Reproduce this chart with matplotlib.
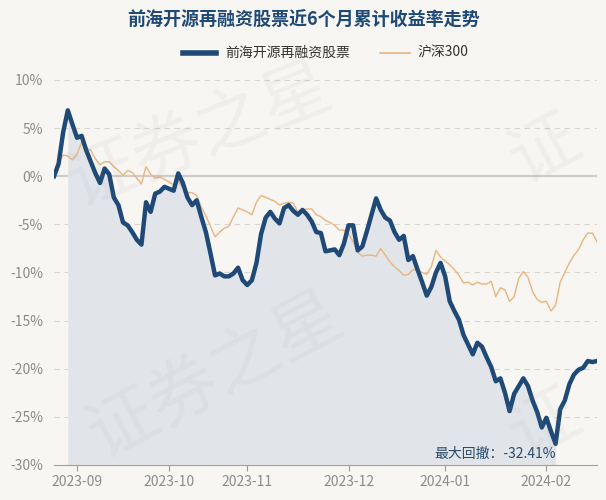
import numpy as np
import matplotlib
matplotlib.use("Agg")
import matplotlib.pyplot as plt
from matplotlib.lines import Line2D

plt.rcParams['font.family'] = ['Noto Sans CJK SC', 'DejaVu Sans']

title = "前海开源再融资股票近6个月累计收益率走势"
fund_name = "前海开源再融资股票"
index_name = "沪深300"

# cumulative returns (%) per trading day, 2023-08-25 .. 2024-02-26
fund = [0.0, 1.3, 4.6, 6.85, 5.4, 4.0, 4.2, 2.7, 1.5, 0.3,
        -0.7, 0.8, 0.2, -2.2, -3.0, -4.8, -5.1, -5.8, -6.6, -7.1,
        -2.7, -3.7, -1.8, -1.6, -1.1, -1.3, -1.5, 0.3, -0.7, -2.2,
        -3.0, -2.5, -4.2, -5.8, -8.0, -10.3, -10.1, -10.4, -10.4, -10.1,
        -9.5, -10.8, -11.3, -10.8, -9.0, -6.0, -4.3, -3.7, -4.4, -4.9,
        -3.3, -3.0, -3.6, -4.0, -3.5, -4.0, -4.7, -5.8, -5.9, -7.8,
        -7.7, -7.6, -8.2, -7.0, -5.1, -5.1, -7.7, -7.3, -5.7, -4.0,
        -2.3, -3.5, -4.3, -4.6, -5.8, -6.6, -6.2, -8.7, -8.3, -9.7,
        -11.0, -12.4, -11.5, -10.0, -9.0, -10.4, -13.0, -14.0, -14.9, -16.5,
        -17.5, -18.5, -17.3, -17.7, -18.8, -19.8, -21.3, -21.0, -22.5, -24.4,
        -22.6, -21.8, -21.0, -21.8, -23.3, -24.5, -26.1, -25.1, -26.5, -27.8,
        -24.2, -23.3, -21.6, -20.6, -20.1, -19.9, -19.2, -19.3, -19.2]

hs300 = [0.0, 1.5, 2.2, 2.1, 1.7, 2.3, 3.5, 2.9, 2.7, 1.8,
         1.2, 1.5, 1.5, 1.0, 0.6, 0.1, 0.6, 0.4, -0.2, -0.8,
         1.0, 0.2, -0.2, -0.1, -0.3, -0.6, -0.9, -0.5, -1.2, -1.7,
         -1.7, -2.0, -3.2, -4.1, -5.2, -6.3, -5.8, -5.4, -5.2, -4.2,
         -3.3, -3.5, -3.7, -4.0, -2.7, -2.0, -2.2, -2.4, -2.6, -3.0,
         -2.8, -2.7, -2.8, -3.7, -3.5, -3.4, -3.4, -4.0, -4.2, -4.6,
         -4.8, -5.1, -5.6, -5.6, -6.0, -6.8, -7.9, -8.3, -8.2, -8.2,
         -8.3, -7.5, -8.2, -8.9, -9.4, -9.8, -10.3, -10.2, -9.7, -9.8,
         -10.0, -10.2, -9.4, -7.7, -8.4, -8.8, -9.2, -9.7, -10.3, -11.1,
         -11.0, -11.3, -11.0, -11.2, -11.2, -10.9, -12.5, -11.6, -11.8, -13.0,
         -12.5, -10.6, -9.9, -10.5, -12.0, -12.8, -13.1, -13.0, -14.0, -13.4,
         -11.0, -10.0, -9.0, -8.2, -7.6, -6.6, -5.9, -5.9, -6.8]

month_labels = ["2023-09", "2023-10", "2023-11", "2023-12", "2024-01", "2024-02"]
month_start_idx = [5, 25, 42, 64, 85, 107]
y_ticks = [10, 5, 0, -5, -10, -15, -20, -25, -30]
max_dd_text = "最大回撤：-32.41%"

bg = '#f8f6f2'
navy = '#1f4a78'
orange = '#eab47e'

fig = plt.figure(figsize=(6.06, 5.0), dpi=100, facecolor=bg)
ax = fig.add_axes([54/606, 35/500, 543/606, 385/500])
ax.set_facecolor(bg)

x = np.arange(len(fund))
fund_a = np.array(fund)
peak = int(np.argmax(fund_a))
trough = peak + int(np.argmin(fund_a[peak:]))

ax.set_xlim(0, len(fund) - 1)
ax.set_ylim(-30, 10)

# grid
for v in y_ticks:
    if v == 0:
        ax.axhline(0, color='#cfcbc6', lw=1.6, zorder=1)
    elif v != -30:
        ax.axhline(v, color='#d8d5d0', lw=0.8, ls=(0, (5, 4)), zorder=1)

# max drawdown shaded region
ax.fill_between(x[peak:trough + 1], fund_a[peak:trough + 1], -30,
                color='#e1e5e9', zorder=2, lw=0)

# watermark
wm = dict(fontsize=50, color='#888888', alpha=0.07, zorder=3,
          ha='center', va='center', transform=fig.transFigure)
fig.text(200/606, 1 - 135/500, "证券之星", rotation=22, **wm)
fig.text(215/606, 1 - 375/500, "证券之星", rotation=28, **wm)
fig.text(545/606, 1 - 150/500, "证", rotation=28, **wm)
fig.text(545/606, 1 - 425/500, "证", rotation=28, **wm)

ax.plot(x, hs300, color=orange, lw=1.0, zorder=4)
ax.plot(x, fund, color=navy, lw=3.2, zorder=5, solid_joinstyle='round')

ax.set_yticks(y_ticks)
ax.set_yticklabels([f"{v}%" for v in y_ticks])
ax.set_xticks(month_start_idx)
ax.set_xticklabels(month_labels)
ax.tick_params(axis='y', length=0, labelsize=10, labelcolor='#8c8c8c', pad=8)
ax.tick_params(axis='x', length=4, color='#999999', labelsize=10,
               labelcolor='#8c8c8c', pad=3)
for s in ['top', 'right', 'left']:
    ax.spines[s].set_visible(False)
ax.spines['bottom'].set_color('#a0a0a0')

ax.text(trough, -28.9, max_dd_text, ha='right', va='center', fontsize=10,
        color='#2c4a6c', zorder=6)

fig.text(0.5, 1 - 20/500, title, ha='center', va='center', fontsize=13,
         fontweight='bold', color=navy)

# legend
ly = 1 - 53/500
fig.add_artist(Line2D([183/606, 216/606], [ly, ly], color=navy, lw=4,
                      transform=fig.transFigure))
fig.text(225/606, ly, fund_name, ha='left', va='center', fontsize=10,
         color='#333333')
fig.add_artist(Line2D([380/606, 410/606], [ly, ly], color=orange, lw=1.2,
                      transform=fig.transFigure))
fig.text(417/606, ly, index_name, ha='left', va='center', fontsize=10,
         color='#333333')

fig.savefig("out.png", dpi=100, facecolor=bg)
